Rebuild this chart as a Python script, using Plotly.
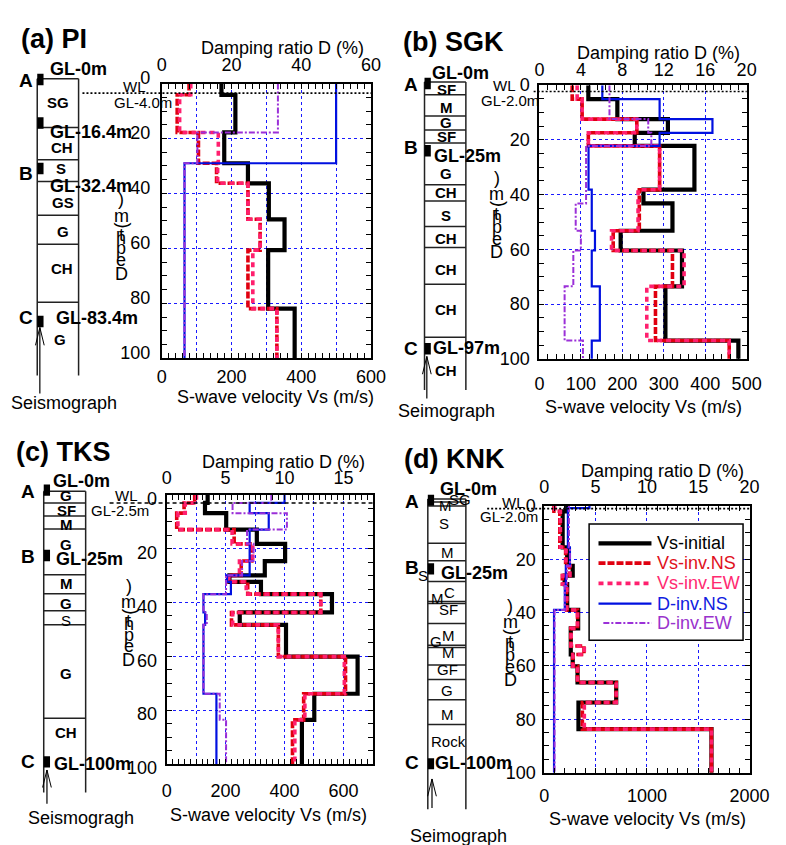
import plotly.graph_objects as go

# ======================= DATA =======================
DEPTH_MAX = 100
SERIES = ["Vs-initial", "Vs-inv.NS", "Vs-inv.EW", "D-inv.NS", "D-inv.EW"]

# (a) PI
a_bounds_vs = [4.1, 17.8, 29.0, 36.3, 49.4, 60.6, 81.9]
a_vs_init = [171, 211, 179, 247, 307, 352, 305, 381]
a_vs_ns = [78, 44, 105, 157, 247, 282, 247, 330]
a_vs_ew = [83, 51, 162, 160, 247, 282, 261, 330]
a_bounds_dns = [29.0]
a_d_ns = [50.0, 6.5]
a_bounds_dew = [17.8, 29.0]
a_d_ew = [33.3, 10.2, 6.5]

# (b) SGK
b_bounds_vs = [5.1, 12.4, 17.4, 22.2, 38.2, 43.2, 53.2, 60.4, 73.5, 93.3]
b_vs_init = [118, 188, 310, 230, 374, 251, 321, 196, 344, 304, 480]
b_vs_ns = [79, 103, 235, 118, 290, 241, 241, 178, 321, 280, 458]
b_vs_ew = [91, 103, 235, 118, 290, 238, 238, 174, 349, 259, 458]
b_bounds_dns = [5.1, 12.4, 17.4, 22.2, 38.2, 53.2, 60.4, 73.5, 93.3]
b_d_ns = [6.07, 11.6, 16.7, 11.6, 4.74, 5.05, 5.36, 5.05, 5.83, 5.05]
b_bounds_dew = [12.4, 17.4, 22.2, 43.2, 53.2, 60.4, 73.5, 93.3]
b_d_ew = [6.76, 10.5, 10.8, 4.5, 3.5, 4.0, 3.27, 2.43, 4.2]

# (c) TKS
c_bounds_vs = [3.0, 6.8, 12.9, 18.2, 24.6, 29.9, 32.3, 36.9, 43.7, 48.3, 60.1, 73.9, 83.6]
c_vs_init = [139, 130, 202, 306, 402, 333, 213, 320, 561, 248, 405, 648, 501, 459]
c_vs_ns = [95, 59, 34, 229, 289, 253, 207, 275, 523, 220, 379, 607, 465, 427]
c_vs_ew = [101, 63, 38, 222, 292, 247, 211, 270, 523, 224, 379, 603, 469, 435]
c_bounds_dns = [3.0, 6.8, 12.9, 29.9, 32.3, 36.9, 43.7, 48.3, 73.9]
c_d_ns = [10.0, 7.04, 8.66, 7.04, 5.12, 5.45, 3.12, 3.26, 3.12, 4.22]
c_bounds_dew = [3.0, 6.8, 12.9, 18.2, 24.6, 29.9, 36.9, 43.7, 48.3, 73.9, 83.6]
c_d_ew = [8.88, 5.59, 10.2, 6.82, 7.37, 6.4, 5.04, 3.12, 3.4, 3.12, 4.5, 5.04]

# (d) KNK
d_bounds_vs = [2.0, 15.5, 22.5, 26.1, 29.3, 39.0, 45.9, 52.5, 55.7, 60.1, 66.2, 73.7, 83.7]
d_vs_init = [223, 179, 223, 277, 198, 223, 330, 258, 258, 277, 324, 701, 333, 1629]
d_vs_ns = [94, 151, 208, 245, 176, 217, 324, 258, 387, 277, 324, 701, 371, 1629]
d_vs_ew = [100, 157, 212, 250, 180, 220, 324, 262, 390, 280, 324, 701, 390, 1629]
d_bounds_dns = [0.8, 15.5, 22.5, 30.0, 39.0]
d_d_ns = [4.4, 2.3, 2.5, 2.1, 2.0, 0.95]
d_bounds_dew = [15.5, 22.5, 30.0, 39.0]
d_d_ew = [2.4, 2.5, 2.2, 2.0, 1.0]

# Soil columns (layer boundaries, labels, seismograph depths)
a_col_bounds = [17.8, 29.5, 37.4, 49.7, 60.2, 81.3]
a_col_labels = ["SG", "CH", "S", "GS", "G", "CH", "G"]
a_col_label_depths = [8.8, 25.1, 32.7, 45.0, 55.6, 69.0, 94.7]
a_sensor_depths = [0.3, 16.1, 32.7, 88.3]
a_gl_labels = ["GL-0m", "GL-16.4m", "GL-32.4m", "GL-83.4m"]
a_gl_depths = [-3.5, 19.3, 39.2, 87.0]

b_col_bounds = [4.7, 12.5, 17.6, 22.3, 37.6, 43.5, 52.8, 60.5, 73.9, 93.3]
b_col_labels = ["SF", "M", "G", "SF", "G", "CH", "S", "CH", "CH", "CH", "CH"]
b_col_label_depths = [2.7, 9.4, 14.9, 20.0, 33.5, 40.5, 48.9, 57.3, 68.7, 83.1, 105.6]
b_sensor_depths = [0.6, 25.2, 97.5]
b_gl_labels = ["GL-0m", "GL-25m", "GL-97m"]
b_gl_depths = [-3.2, 27.0, 97.4]

c_col_bounds = [4.4, 9.2, 14.0, 31.0, 38.1, 44.4, 49.6, 84.4]
c_col_labels = ["G", "SF", "M", "G", "M", "G", "S", "G", "CH"]
c_col_label_depths = [1.6, 7.2, 12.2, 19.9, 34.3, 41.7, 48.0, 67.7, 89.6]
c_sensor_depths = [-0.4, 23.9, 100.6]
c_gl_labels = ["GL-0m", "GL-25m", "GL-100m"]
c_gl_depths = [-3.9, 25.3, 101.2]

d_col_bounds = [1.2, 2.7, 16.6, 23.2, 31.0, 38.5, 39.2, 46.7, 54.9, 55.7, 62.3, 67.7, 75.3, 84.6]
d_col_labels = ["SG", "M", "S", "M", "S", "C", "M", "SF", "M", "G", "M", "GF", "G", "M", "Rock"]
d_col_label_depths = [0.4, 2.4, 9.4, 20.0, 28.6, 35.2, 37.3, 41.3, 51.1, 53.3, 57.5, 63.8, 71.9, 80.7, 91.0]
d_sensor_depths = [0.5, 26.2, 99.3]
d_gl_labels = ["GL-0m", "GL-25m", "GL-100m"]
d_gl_depths = [-3.9, 27.7, 99.0]

# ======================= STYLE / LAYOUT =======================
W, H = 786, 845
FONT = "Liberation Sans, Arial, sans-serif"
STY = {
    "Vs-initial": dict(color="#000000", width=4.2, dash="solid"),
    "Vs-inv.NS": dict(color="#E00010", width=3.6, dash="7px,2px"),
    "Vs-inv.EW": dict(color="#FF1F6E", width=3.6, dash="5px,4px"),
    "D-inv.NS": dict(color="#0010E0", width=2.2, dash="solid"),
    "D-inv.EW": dict(color="#9B30D8", width=2.0, dash="6px,2px,2px,2px"),
}
LEG_COL = {"Vs-initial": "#000000", "Vs-inv.NS": "#E01020", "Vs-inv.EW": "#FF2A70",
           "D-inv.NS": "#1020E0", "D-inv.EW": "#9933CC"}


def fx(px):
    return px / W


def fy(py):
    return 1 - py / H


panels = [
    dict(title="(a) PI", title_xy=(51, 23.5), L=162, R=378, T=70, B=355,
         vs_max=600, vs_tick=[0, 100, 200, 300, 400, 500, 600], vs_lab=["0", "", "200", "", "400", "", "600"],
         minor=20, d_max=60, d_tick=[0, 20, 40, 60],
         series=[(a_bounds_vs, a_vs_init), (a_bounds_vs, a_vs_ns), (a_bounds_vs, a_vs_ew),
                 (a_bounds_dns, a_d_ns), (a_bounds_dew, a_d_ew)],
         damp_xy=(287, 33), vel_xy=(279, 395), ylab_xy=(120, 190),
         wl=3.5, wl_x=(80, 378), wl_xy=(133.5, 72.7), gl_txt="GL-4.0m", gl_xy=(143, 90), wl_dash="2px,2px",
         col=dict(L=33.3, R=76, top=65, bottom=108, bounds=a_col_bounds, labels=a_col_labels,
                  ldepths=a_col_label_depths, lx=[0.51, 0.6, 0.58, 0.62, 0.62, 0.6, 0.56], bold=[1] * 7,
                  sensors=a_sensor_depths, abc=[("A", 0.6), ("B", 34.4), ("C", 87.0)], abc_x=-0.27,
                  gl=a_gl_labels, gl_d=a_gl_depths, gl_x=[1.0, 1.3, 1.3, 1.45],
                  arrow_x=0.063, arrow_tip=90.5, arrow_end=114.5, seis="Seismograph", seis_xy=(61, 401.7)),
         tl_shift=6, bot_pad=1, top_pad=8, left_pad=6),
    dict(title="(b) SGK", title_xy=(463, 27), L=552, R=766, T=71.7, B=355.5,
         vs_max=500, vs_tick=[0, 100, 200, 300, 400, 500], vs_lab=["0", "100", "200", "300", "400", "500"],
         minor=20, d_max=20, d_tick=[0, 4, 8, 12, 16, 20],
         series=[(b_bounds_vs, b_vs_init), (b_bounds_vs, b_vs_ns), (b_bounds_vs, b_vs_ew),
                 (b_bounds_dns, b_d_ns), (b_bounds_dew, b_d_ew)],
         damp_xy=(675, 38), vel_xy=(659, 405), ylab_xy=(508, 168),
         wl=2.3, wl_x=(546, 766), wl_xy=(516, 71.7), gl_txt="GL-2.0m", gl_xy=(521.5, 87.3), wl_dash="2px,2px",
         col=dict(L=433.3, R=476, top=68.3, bottom=112.6, bounds=b_col_bounds, labels=b_col_labels,
                  ldepths=b_col_label_depths, lx=[0.52] * 11, bold=[1] * 11,
                  sensors=b_sensor_depths, abc=[("A", 0.8), ("B", 23.8), ("C", 97.4)], abc_x=-0.33,
                  gl=b_gl_labels, gl_d=b_gl_depths, gl_x=[0.86, 1.03, 1.01],
                  arrow_x=0.056, arrow_tip=100.3, arrow_end=115.7, seis="Seimograph", seis_xy=(456, 410)),
         tl_shift=0, bot_pad=8, top_pad=5, left_pad=4),
    dict(title="(c) TKS", title_xy=(60.5, 452), L=167, R=380, T=496.5, B=775.5,
         vs_max=700, vs_tick=[0, 100, 200, 300, 400, 500, 600, 700],
         vs_lab=["0", "", "200", "", "400", "", "600", ""],
         minor=20, d_max=17.5, d_tick=[0, 5, 10, 15],
         series=[(c_bounds_vs, c_vs_init), (c_bounds_vs, c_vs_ns), (c_bounds_vs, c_vs_ew),
                 (c_bounds_dns, c_d_ns), (c_bounds_dew, c_d_ew)],
         damp_xy=(288, 462.7), vel_xy=(272, 828), ylab_xy=(128, 590.7),
         wl=3.0, wl_x=(108, 380), wl_xy=(125, 496.7), gl_txt="GL-2.5m", gl_xy=(119, 512.7), wl_dash="4px,3px",
         col=dict(L=40, R=83.3, top=492.7, bottom=112, bounds=c_col_bounds, labels=c_col_labels,
                  ldepths=c_col_label_depths, lx=[0.54] * 9, bold=[1, 1, 1, 1, 1, 1, 0, 1, 1],
                  sensors=c_sensor_depths, abc=[("A", 0.0), ("B", 24.1), ("C", 100.4)], abc_x=-0.37,
                  gl=c_gl_labels, gl_d=c_gl_depths, gl_x=[0.9, 1.08, 1.17],
                  arrow_x=0.077, arrow_tip=103.6, arrow_end=116.1, seis="Seismogragh", seis_xy=(79, 831.7)),
         tl_shift=-4, bot_pad=9, top_pad=6, left_pad=4),
    dict(title="(d) KNK", title_xy=(464, 459), L=557, R=769, T=508, B=784.5,
         vs_max=2000, vs_tick=[0, 500, 1000, 1500, 2000], vs_lab=["0", "", "1000", "", "2000"],
         minor=100, d_max=20, d_tick=[0, 5, 10, 15, 20],
         series=[(d_bounds_vs, d_vs_init), (d_bounds_vs, d_vs_ns), (d_bounds_vs, d_vs_ew),
                 (d_bounds_dns, d_d_ns), (d_bounds_dew, d_d_ew)],
         damp_xy=(679, 471.7), vel_xy=(664, 833), ylab_xy=(521.7, 611.7),
         wl=1.0, wl_x=(498, 769), wl_xy=(525, 504), gl_txt="GL-2.0m", gl_xy=(521, 519.3), wl_dash="2px,2px",
         col=dict(L=436.7, R=476, top=500.7, bottom=116.4, bounds=d_col_bounds, labels=d_col_labels,
                  ldepths=d_col_label_depths,
                  lx=[0.85, 0.47, 0.42, 0.51, -0.13, 0.58, 0.25, 0.55, 0.55, 0.21, 0.55, 0.51, 0.51, 0.52, 0.55],
                  bold=[0] * 15,
                  sensors=d_sensor_depths, abc=[("A", 0.9), ("B", 25.6), ("C", 99.0)], abc_x=-0.42,
                  gl=d_gl_labels, gl_d=d_gl_depths, gl_x=[1.07, 1.23, 1.2],
                  arrow_x=0.11, arrow_tip=105.0, arrow_end=115.9, seis="Seimograph", seis_xy=(468, 850)),
         tl_shift=0, bot_pad=6, top_pad=8, left_pad=3),
]

# legend box geometry (pixels)
LEG_BOX = (603.3, 526.7, 762.3, 647.3)
LEG_ROWS = [546.7, 567.3, 588.3, 609.3, 629.3]
LEG_LINE_X = (613, 667.7)
LEG_TEXT_X = 671.7


def step(bounds, vals):
    xs = list(vals) + [vals[-1]]
    ys = [0] + list(bounds) + [DEPTH_MAX]
    return xs, ys


def ax_key(letter, n):
    return f"{letter}axis" if n == 1 else f"{letter}axis{n}"


def ax_ref(letter, n):
    return letter if n == 1 else f"{letter}{n}"


fig = go.Figure()
layout = {}
shapes = []
annots = []

GRID = dict(showgrid=True, gridcolor="#1a1aff", griddash="dot", gridwidth=1)


def txt(text, px, py, size=18, bold=False, color="black", angle=0, xanchor="center"):
    annots.append(dict(text=f"<b>{text}</b>" if bold else text, x=fx(px), y=fy(py), xref="paper",
                       yref="paper", showarrow=False, textangle=angle,
                       font=dict(size=size, family=FONT, color=color), xanchor=xanchor, yanchor="middle"))


for i, p in enumerate(panels):
    nx_vs, nx_d, ny = 2 * i + 1, 2 * i + 2, i + 1
    xr_vs, xr_d, yr = ax_ref("x", nx_vs), ax_ref("x", nx_d), ax_ref("y", ny)
    dom_x = [fx(p["L"]), fx(p["R"])]
    dom_y = [fy(p["B"]), fy(p["T"])]
    layout[ax_key("x", nx_vs)] = dict(
        domain=dom_x, anchor=yr, range=[0, p["vs_max"]], tickmode="array",
        tickvals=p["vs_tick"], ticktext=p["vs_lab"], ticks="inside", ticklen=5, tickwidth=1.2,
        tickcolor="black", showline=True, linecolor="black", linewidth=2, mirror="allticks",
        zeroline=False, tickfont=dict(size=18, color="black", family=FONT),
        ticklabelstandoff=p["bot_pad"],
        minor=dict(dtick=p["minor"], ticks="inside", ticklen=5, tickcolor="black", tickwidth=1.2, showgrid=False),
        **GRID)
    layout[ax_key("x", nx_d)] = dict(
        domain=dom_x, anchor=yr, overlaying=xr_vs, side="top", range=[0, p["d_max"]],
        tickmode="array", tickvals=p["d_tick"], ticks="", showline=False, showgrid=False, zeroline=False,
        tickfont=dict(size=18, color="black", family=FONT), ticklabelstandoff=p["top_pad"])
    layout[ax_key("y", ny)] = dict(
        domain=dom_y, anchor=xr_vs, range=[DEPTH_MAX, 0], tickmode="array",
        tickvals=[0, 20, 40, 60, 80, 100], ticks="inside", ticklen=5, tickwidth=1.2, tickcolor="black",
        showline=True, linecolor="black", linewidth=2, mirror="allticks", zeroline=False,
        tickfont=dict(size=18, color="black", family=FONT), ticklabelstandoff=p["left_pad"],
        ticklabelshift=p["tl_shift"],
        minor=dict(dtick=5, ticks="inside", ticklen=5, tickcolor="black", tickwidth=1.2, showgrid=False),
        **GRID)

    for (bounds, vals), name in zip(p["series"], SERIES):
        xs, ys = step(bounds, vals)
        st = STY[name]
        on_d = name.startswith("D-")
        fig.add_trace(go.Scatter(
            x=xs, y=ys, mode="lines", xaxis=xr_d if on_d else xr_vs, yaxis=yr,
            line=dict(shape="vh", color=st["color"], width=st["width"], dash=st["dash"]),
            name=name, legendgroup=name, showlegend=False, hoverinfo="skip"))

    # Water level line and labels
    shapes.append(dict(type="line", xref="paper", yref=yr, x0=fx(p["wl_x"][0]), x1=fx(p["wl_x"][1]),
                       y0=p["wl"], y1=p["wl"], line=dict(color="black", width=1.6, dash=p["wl_dash"])))
    txt("WL", *p["wl_xy"], size=15)
    txt(p["gl_txt"], *p["gl_xy"], size=15)

    # Titles and axis titles
    txt(p["title"], *p["title_xy"], size=27, bold=True)
    txt("Damping ratio D (%)", *p["damp_xy"])
    txt("S-wave velocity Vs (m/s)", *p["vel_xy"])
    # garbled stacked "Depth (m)" label as in the source figure
    bx, by = p["ylab_xy"]
    for ch, off, ang in [(")", 0, 0), ("m", 17, 0), ("(", 27, -90), ("t", 37, 0), ("h", 40, 0),
                         ("p", 51, 0), ("e", 63, 0), ("D", 77, 0)]:
        txt(ch, bx, by + off, angle=ang)

    # ------- soil column -------
    c = p["col"]
    s = (p["B"] - p["T"]) / DEPTH_MAX
    w = c["R"] - c["L"]

    def cpx(xc):
        return c["L"] + xc * w

    def cpy(dv):
        return c["top"] + dv * s

    ncx, ncy = 9 + i, 5 + i
    cxr, cyr = ax_ref("x", ncx), ax_ref("y", ncy)
    layout[ax_key("x", ncx)] = dict(domain=[fx(c["L"] - 0.1 * w), fx(c["R"] + 0.1 * w)], range=[-0.1, 1.1],
                                    anchor=cyr, visible=False, fixedrange=True)
    layout[ax_key("y", ncy)] = dict(domain=[fy(c["top"] + 122 * s), fy(c["top"] - 12 * s)],
                                    range=[122, -12], anchor=cxr, visible=False, fixedrange=True)
    fig.add_trace(go.Scatter(x=[None], y=[None], xaxis=cxr, yaxis=cyr, showlegend=False, hoverinfo="skip"))
    lc = dict(color="#222222", width=1.5)
    for xv in (0, 1):
        shapes.append(dict(type="line", xref=cxr, yref=cyr, x0=xv, x1=xv, y0=0, y1=c["bottom"], line=lc))
    for dv in [0] + c["bounds"]:
        shapes.append(dict(type="line", xref=cxr, yref=cyr, x0=0, x1=1, y0=dv, y1=dv, line=lc))
    mw = 6.5 / w
    for dv in c["sensors"]:
        shapes.append(dict(type="rect", xref=cxr, yref=cyr, x0=0, x1=mw, y0=dv - 2.1, y1=dv + 2.1,
                           fillcolor="black", line=dict(width=0)))
    # seismograph arrow
    ax_ = c["arrow_x"]
    shapes.append(dict(type="line", xref=cxr, yref=cyr, x0=ax_, x1=ax_, y0=c["arrow_tip"], y1=c["arrow_end"],
                       line=dict(color="black", width=1.2)))
    for sgn in (-1, 1):
        shapes.append(dict(type="line", xref=cxr, yref=cyr, x0=ax_, x1=ax_ + sgn * 4.5 / w,
                           y0=c["arrow_tip"], y1=c["arrow_tip"] + 6.5,
                           line=dict(color="black", width=1.0)))
    for lab, dv, lx, b in zip(c["labels"], c["ldepths"], c["lx"], c["bold"]):
        txt(lab, cpx(lx), cpy(dv), size=15, bold=bool(b))
    for lab, dv in c["abc"]:
        txt(lab, cpx(c["abc_x"]), cpy(dv), size=19, bold=True)
    for lab, dv, gx in zip(c["gl"], c["gl_d"], c["gl_x"]):
        txt(lab, cpx(gx), cpy(dv), size=18, bold=True)
    txt(c["seis"], *c["seis_xy"])

# ------- legend (drawn in panel d) -------
x0, y0, x1, y1 = LEG_BOX
shapes.append(dict(type="rect", xref="paper", yref="paper", x0=fx(x0), x1=fx(x1), y0=fy(y0), y1=fy(y1),
                   fillcolor="white", line=dict(color="black", width=1.5), layer="above"))
for name, ry in zip(SERIES, LEG_ROWS):
    st = STY[name]
    lx0 = LEG_LINE_X[0] + (5 if name == "D-inv.EW" else 0)
    shapes.append(dict(type="line", xref="paper", yref="paper", x0=fx(lx0), x1=fx(LEG_LINE_X[1]),
                       y0=fy(ry), y1=fy(ry), line=dict(color=st["color"], width=st["width"], dash=st["dash"])))
    txt(name, LEG_TEXT_X, ry, size=18, color=LEG_COL[name], xanchor="left")

fig.update_layout(
    width=W, height=H, autosize=False, margin=dict(l=0, r=0, t=0, b=0),
    paper_bgcolor="white", plot_bgcolor="white", showlegend=False,
    font=dict(family=FONT, size=18, color="black"),
    shapes=shapes, annotations=annots,
    **layout)

fig.write_html("out.html")
